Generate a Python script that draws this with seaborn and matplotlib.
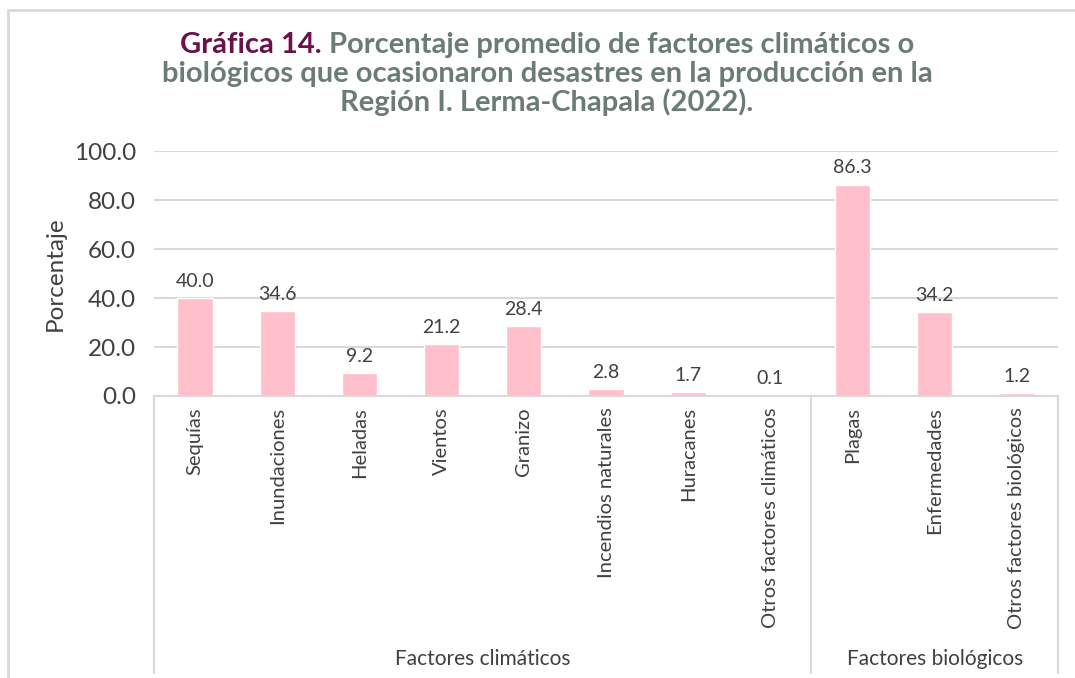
import numpy as np
import pandas as pd
import matplotlib
matplotlib.use('Agg')
import matplotlib.pyplot as plt
import matplotlib.patches as mpatches
import seaborn as sns

# Data
categorias = ['Sequías', 'Inundaciones', 'Heladas', 'Vientos', 'Granizo',
              'Incendios naturales', 'Huracanes', 'Otros factores climáticos',
              'Plagas', 'Enfermedades', 'Otros factores biológicos']
porcentajes = [40.0, 34.6, 9.2, 21.2, 28.4, 2.8, 1.7, 0.1, 86.3, 34.2, 1.2]
grupos = ['Factores climáticos', 'Factores biológicos']
grupo_tamanos = [8, 3]
yticks = [0, 20, 40, 60, 80, 100]

df = pd.DataFrame({'Categoria': categorias, 'Porcentaje': porcentajes})

sns.set_style('white')
plt.rcParams['font.family'] = ['Lato', 'DejaVu Sans']

texto = '#404040'
gris = '#d9d9d9'

fig = plt.figure(figsize=(10.75, 6.78), dpi=100)
ax = fig.add_axes([154 / 1075, 1 - 396 / 678, (1058 - 154) / 1075, 245 / 678])

sns.barplot(data=df, x='Categoria', y='Porcentaje', color='#ffc0cb',
            width=0.43, ax=ax, saturation=1)

ax.set_ylim(0, 100)
ax.set_xlim(-0.5, len(categorias) - 0.5)
ax.set_yticks(yticks)
ax.set_yticklabels([f'{v:.1f}' for v in yticks], fontsize=17.5, color=texto)
ax.yaxis.grid(True, color=gris, linewidth=1.5)
ax.set_axisbelow(True)
ax.tick_params(axis='y', length=0, pad=13)
ax.tick_params(axis='x', length=0, pad=8)
ax.set_xticks(range(len(categorias)))
ax.set_xticklabels(categorias, rotation=90, fontsize=14.5, color=texto, va='top')
ax.set_xlabel('')
ax.set_ylabel('Porcentaje', fontsize=17.5, color=texto, labelpad=6)

for s in ['top', 'right', 'left']:
    ax.spines[s].set_visible(False)
ax.spines['bottom'].set_color(gris)
ax.spines['bottom'].set_linewidth(1.5)

ax.bar_label(ax.containers[0], fmt='%.1f', fontsize=14, color=texto, padding=6)

# group separators and labels under the category axis
trans = ax.get_xaxis_transform()
bordes = np.concatenate([[0], np.cumsum(grupo_tamanos)]) - 0.5
for b in bordes:
    ax.plot([b, b], [0, -1.13], transform=trans, color=gris, linewidth=1.5,
            clip_on=False)
for i, g in enumerate(grupos):
    centro = (bordes[i] + bordes[i + 1]) / 2
    ax.text(centro, -1.075, g, transform=trans, ha='center', va='center',
            fontsize=15, color=texto)

# outer frame
fig.patches.append(mpatches.Rectangle((8 / 1075, -0.1), 1.2, 1.1 - 10 / 678,
                                      transform=fig.transFigure, fill=False,
                                      edgecolor=gris, linewidth=2))

# title with a coloured prefix
morado = '#6b1048'
verde = '#6b7b78'
fig.canvas.draw()
r = fig.canvas.get_renderer()
cx = 547 / 1075
tsize = 21
t1 = fig.text(0, 1 - 45 / 678, 'Gráfica 14. ', fontsize=tsize, weight='bold',
              color=morado, va='center')
t2 = fig.text(0, 1 - 45 / 678, 'Porcentaje promedio de factores climáticos o',
              fontsize=tsize, weight='bold', color=verde, va='center')
w1 = t1.get_window_extent(r).width / 1075
w2 = t2.get_window_extent(r).width / 1075
x0 = cx - (w1 + w2) / 2
t1.set_x(x0)
t2.set_x(x0 + w1)
fig.text(cx, 1 - 74 / 678,
         'biológicos que ocasionaron desastres en la producción en la',
         fontsize=tsize, weight='bold', color=verde, ha='center', va='center')
fig.text(cx, 1 - 102 / 678, 'Región I. Lerma-Chapala (2022).',
         fontsize=tsize, weight='bold', color=verde, ha='center', va='center')

fig.savefig('out.png', dpi=100)
